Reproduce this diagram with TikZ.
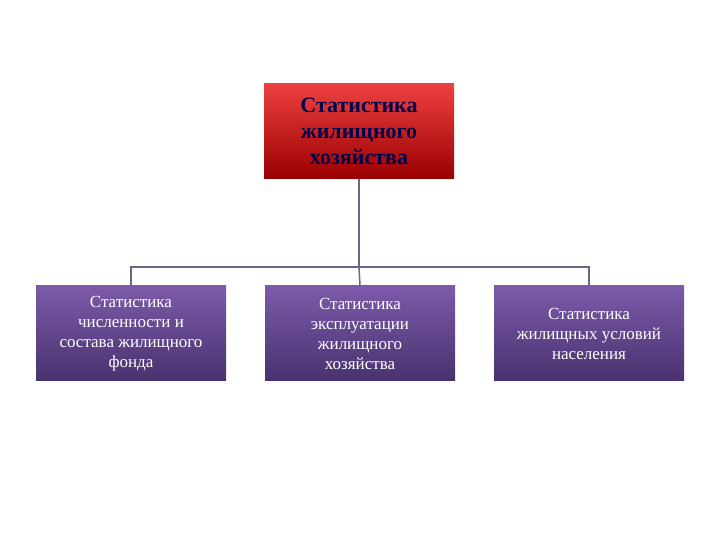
\documentclass[tikz,border=0pt]{standalone}
\usepackage{fontspec}
\setmainfont{Liberation Serif}
\begin{document}
\begin{tikzpicture}[x=1pt,y=1pt,
 topbox/.style={minimum width=190pt,minimum height=95pt,inner sep=0pt,top color=red!55!black!20!red!75,bottom color=red!60!black,align=center,font=\fontsize{22}{26}\selectfont\bfseries,text=blue!30!black},
 lowbox/.style={minimum width=190pt,minimum height=95pt,inner sep=0pt,top color={rgb,255:red,124;green,90;blue,170},bottom color={rgb,255:red,72;green,50;blue,110},align=center,font=\fontsize{17}{20}\selectfont,text=white},
 link/.style={draw={rgb,255:red,110;green,100;blue,135},line width=1.5pt}]
\useasboundingbox (0,0) rectangle (720,540);
\node[topbox] (t) at (359,408.5) {Статистика\\жилищного\\хозяйства};
\node[lowbox] (a) at (131,206.5) {Статистика\\численности и\\состава жилищного\\фонда};
\node[lowbox] (b) at (360,206.5) {Статистика\\эксплуатации\\жилищного\\хозяйства};
\node[lowbox] (c) at (589,206.5) {Статистика\\жилищных условий\\населения};
\coordinate (h) at (359,273);
\draw[link] (t.south) -- (h);
\draw[link] (a.north) |- (h) -| (c.north);
\draw[link] (h) -- (b.north);
\end{tikzpicture}
\end{document}
